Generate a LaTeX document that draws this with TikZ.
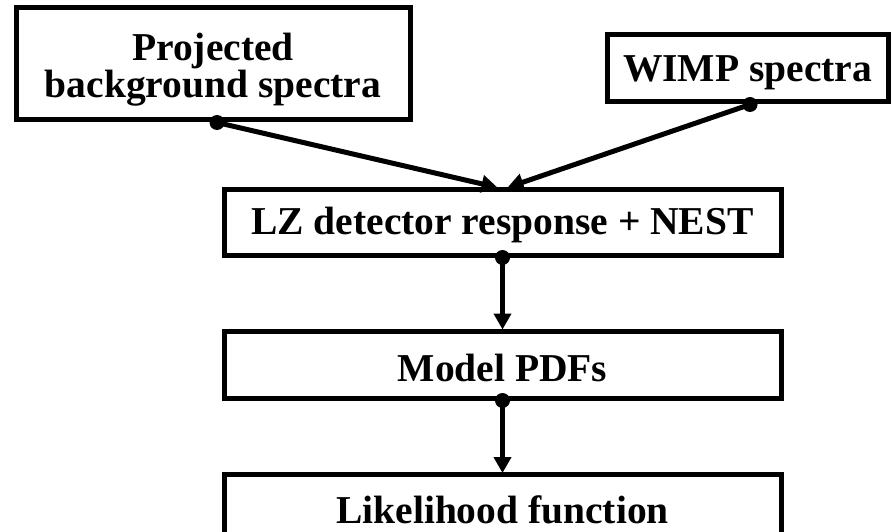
\documentclass[tikz,border=0pt]{standalone}
\usepackage{fontspec}
\setmainfont{Liberation Serif}
\usetikzlibrary{arrows.meta}
\newcommand{\lowered}[2]{\raisebox{#1}[\height][\depth]{#2}}
\begin{document}
\begin{tikzpicture}[x=1pt,y=-1pt,
  box/.style={draw=black, line width=5pt, rectangle, inner sep=0pt, align=center,
    font=\fontsize{39.5}{38}\selectfont\bfseries},
  conn/.style={line width=5pt, -{Triangle[length=16pt,width=17pt]}},
  dotmark/.style={fill=black}]
\useasboundingbox (0,0) rectangle (894,532);
\node[box, minimum width=394pt, minimum height=112pt] (b1) at (213,64)
  {\lowered{-7pt}{\begin{tabular}{@{}c@{}}Projected\\[-1pt]background spectra\end{tabular}}};
\node[box, minimum width=281pt, minimum height=67pt] (b2) at (747.5,68.5) {\lowered{-4pt}{WIMP spectra}};
\node[box, minimum width=557pt, minimum height=66pt] (b3) at (502.5,222) {\lowered{-3pt}{LZ detector response + NEST}};
\node[box, minimum width=557pt, minimum height=67pt] (b4) at (502.5,364.5) {\lowered{-3pt}{Model PDFs}};
\node[box, minimum width=557pt, minimum height=68pt, anchor=north] (b5) at (502.5,472) {\lowered{-1pt}{Likelihood function}};
\coordinate (s1) at ([xshift=4pt]b1.south);
\coordinate (s2) at ([xshift=2.5pt]b2.south);
\draw[conn] (s1) -- ([xshift=-5pt,yshift=-1pt]b3.north);
\draw[conn] (s2) -- ([xshift=5pt,yshift=-1pt]b3.north);
\draw[conn] (b3.south) -- ([yshift=-1pt]b4.north);
\draw[conn] (b4.south) -- ([yshift=-1pt]b5.north);
\fill[dotmark] (s1) circle (7.5pt);
\fill[dotmark] (s2) circle (7.5pt);
\fill[dotmark] (b3.south) circle (7.5pt);
\fill[dotmark] (b4.south) circle (7.5pt);
\end{tikzpicture}
\end{document}
